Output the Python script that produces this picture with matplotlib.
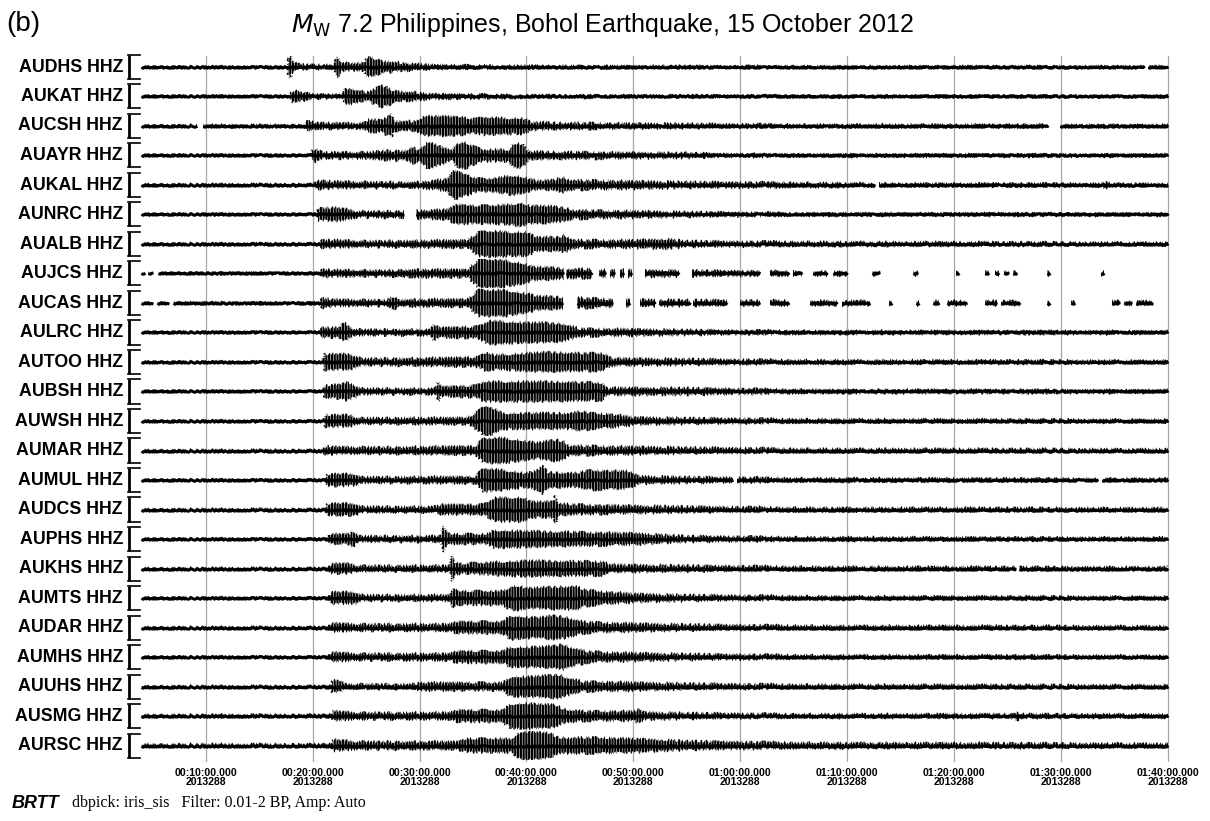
import numpy as np
import matplotlib
matplotlib.use("Agg")
import matplotlib.pyplot as plt
from matplotlib.patches import Rectangle, Polygon

# ---------------- data ----------------
stations = ["AUDHS", "AUKAT", "AUCSH", "AUAYR", "AUKAL", "AUNRC", "AUALB", "AUJCS",
            "AUCAS", "AULRC", "AUTOO", "AUBSH", "AUWSH", "AUMAR", "AUMUL", "AUDCS",
            "AUPHS", "AUKHS", "AUMTS", "AUDAR", "AUMHS", "AUUHS", "AUSMG", "AURSC"]
channel = "HHZ"

# envelope of each trace: time (minutes after 00:00) and half-amplitude (display units)
audhs = ([3.95, 17.6, 17.7, 17.9, 18.1, 18.6, 20.0, 22.0, 22.2, 22.5, 22.8, 24.8, 25.0, 25.5, 26.0, 26.6, 27.5, 29.7, 31.6, 40, 60, 100],
         [0.6, 0.6, 8, 12, 6, 3, 2, 2, 10, 8, 4, 4, 9, 10, 8, 6, 5, 3, 2, 1.3, 1.0, 0.9])
aukat = ([3.95, 17.9, 18.0, 18.3, 19.2, 20.0, 22.8, 23.0, 23.6, 24.3, 25.0, 25.9, 26.3, 26.7, 27.2, 27.6, 28.5, 29.7, 31.5, 40, 60, 100],
         [0.6, 0.6, 5, 6, 4, 2, 2, 7, 8, 6, 4, 8, 12, 10, 8, 6, 5, 4, 2.5, 1.5, 1.2, 1.0])
aucsh = ([3.95, 19.3, 19.5, 20.5, 24.8, 25.3, 26.3, 27.2, 27.4, 27.6, 29.7, 30.2, 32, 34, 35.2, 36, 38, 39.7, 40.5, 42.5, 47, 55, 65, 100],
         [1.0, 1.0, 5, 3, 3, 7, 6, 10, 13, 5, 5, 9, 10, 9, 7, 9, 8, 8, 4, 3.5, 3, 2.2, 1.6, 1.3])
auayr = ([3.95, 19.8, 20.0, 20.3, 21, 25.5, 26.5, 28.8, 29.3, 30.0, 30.7, 31.5, 32.2, 33.0, 33.6, 34.3, 35.3, 36, 38.3, 38.8, 39.6, 40.2, 45, 55, 60, 100],
         [0.7, 0.7, 6, 6, 3, 3.5, 5, 5, 8, 6, 13, 11, 8, 5, 12, 13, 8, 6, 6, 12, 12, 4, 3.5, 2.5, 1.4, 1.2])
aukal = ([3.95, 20.1, 20.3, 21, 25, 30, 32.6, 33.2, 34, 35.3, 36, 37.8, 38.5, 39.7, 41, 42.5, 43.3, 44.2, 50, 55, 65, 75, 93.8, 94.2, 94.6, 100],
         [1.0, 1.0, 4, 4, 3, 3, 6, 15, 12, 7, 6, 8, 10, 8, 4.5, 5, 8, 5, 4, 3, 2.5, 1.6, 1.6, 3.5, 1.6, 1.5])
aunrc = ([3.95, 20.3, 20.5, 22, 23.5, 24.2, 28.4, 29.8, 32.5, 33.5, 35, 36.5, 38.5, 39.4, 40.3, 41.5, 43.5, 44.5, 50, 55, 65, 100],
         [0.6, 0.6, 6, 7, 5, 3, 3.5, 4, 5, 10, 9, 9, 10, 12, 9, 9, 7, 4.5, 3.5, 2.5, 1.5, 1.2])
aualb = ([3.95, 20.7, 20.9, 22, 25, 30, 34.5, 35.5, 37, 38.5, 40, 41, 43, 43.5, 44.5, 50, 53, 55, 60, 100],
         [0.8, 0.8, 4, 4, 3, 3.5, 4, 12, 13, 12, 12, 7, 7, 9, 4, 4, 5, 3, 2.5, 1.5])
aujcs = ([3.95, 20.7, 20.9, 22, 27.5, 28.5, 34.5, 35.5, 37.5, 39.8, 40.5, 42.5, 44, 48, 55, 62, 70, 100],
         [0.7, 0.7, 4, 3.5, 3, 4, 4, 14, 14, 10, 7, 6, 5, 4, 3, 2.5, 2, 2])
aucas = ([3.95, 20.7, 20.9, 22, 27, 27.5, 28, 34.5, 35.5, 38, 40.3, 41, 43.4, 48, 55, 65, 100],
         [0.7, 0.7, 5, 3.5, 3, 7, 3.5, 4, 13, 13, 9, 7, 6, 4, 3, 2.5, 2])
aulrc = ([3.95, 20.7, 20.9, 22.5, 22.9, 23.4, 24, 31, 31.4, 31.8, 35.5, 36.5, 38, 40, 41.5, 43.4, 45, 50, 55, 65, 100],
         [0.6, 0.6, 5, 5, 10, 6, 3, 3, 8, 5, 6, 12, 11, 10, 10, 9, 4, 3.5, 2.5, 1.8, 1.5])
autoo = ([3.95, 20.9, 21.1, 23.5, 24.5, 31, 35.5, 36.3, 37, 40, 42, 45, 47.2, 48, 55, 65, 100],
         [0.6, 0.6, 8, 8, 3.5, 4, 5, 10, 7, 9, 10, 9, 9, 4, 3, 2, 1.5])
aubsh = ([3.95, 20.9, 21.1, 22.5, 23.2, 24, 24.5, 31.5, 31.7, 32, 35.3, 36, 40, 42, 47, 47.5, 55, 65, 100],
         [0.6, 0.6, 6, 7, 9, 6, 3, 3, 10, 5, 6, 10, 10, 10, 9, 4, 3.5, 2, 1.5])
auwsh = ([3.95, 21.0, 21.2, 23.5, 24.2, 34.5, 35.5, 36.2, 37.8, 40, 44, 45.2, 46, 48, 50, 55, 65, 100],
         [0.6, 0.6, 6, 6, 3, 3.5, 10, 16, 8, 8, 8, 10, 8, 7, 4, 3, 2, 1.5])
aumar = ([3.95, 21.0, 21.2, 23, 28, 35.2, 36, 37.5, 39.7, 41, 42.8, 43.5, 44, 50, 55, 65, 100],
         [0.6, 0.6, 4.5, 3.5, 3.5, 4.5, 12, 13, 10, 8, 11, 9, 5, 4, 3, 2, 1.5])
aumul = ([3.95, 21.2, 21.4, 24, 24.5, 35.2, 36, 37.8, 40, 41, 41.5, 42, 44.5, 46, 49.5, 50.5, 55, 65, 100],
         [0.6, 0.6, 6, 6, 3, 3.5, 12, 10, 7, 10, 14, 8, 7, 10, 9, 4, 3, 2, 1.5])
audcs = ([3.95, 21.2, 21.4, 24, 24.5, 31.5, 32, 36, 37, 39.7, 40.5, 42.5, 42.7, 43, 45, 50, 55, 65, 100],
         [0.6, 0.6, 6, 6, 3, 3, 5, 5, 12, 12, 8, 8, 17, 6, 5, 4, 3, 2, 1.5])
auphs = ([3.95, 21.4, 21.6, 23.5, 23.7, 24.3, 32.0, 32.2, 32.5, 33, 36.3, 37, 40, 45, 50, 55, 65, 100],
         [0.6, 0.6, 5, 5, 9, 3, 3, 13, 7, 5, 5, 9, 8, 7, 6, 3, 2, 1.5])
aukhs = ([3.95, 21.5, 21.7, 23.5, 24.2, 32.8, 33.0, 33.3, 34, 37.8, 40, 47.2, 48, 55, 65, 100],
         [0.6, 0.6, 5, 5, 3, 3, 13, 6, 5, 7, 8, 7, 4, 3, 2, 1.5])
aumts = ([3.95, 21.5, 21.7, 24, 24.5, 32.8, 33.2, 33.6, 37.8, 38.5, 39.5, 40, 42, 44.5, 45.6, 48, 50, 55, 65, 100],
         [0.6, 0.6, 6, 6, 3, 3, 10, 7, 7, 12, 12, 10, 11, 12, 8, 6, 4.5, 3, 2, 1.5])
audar = ([3.95, 21.5, 21.7, 24, 32.8, 33.5, 37.8, 38.5, 39.7, 41, 42.5, 43.5, 45.3, 47, 55, 65, 100],
         [0.6, 0.6, 4.5, 3.5, 3.5, 6, 6, 12, 11, 10, 12, 11, 6, 5, 3, 2, 1.5])
aumhs = ([3.95, 21.5, 21.7, 24, 32.8, 33.5, 37.8, 38.5, 40, 42.5, 43.4, 44, 45.6, 47, 55, 65, 100],
         [0.6, 0.6, 5, 3.5, 3.5, 6, 6, 10, 10, 11, 13, 10, 6, 5, 3, 2, 1.5])
auuhs = ([3.95, 21.7, 21.8, 22.5, 23, 29.5, 30, 37.8, 38.5, 40, 43.1, 43.5, 45.3, 47, 55, 65, 100],
         [0.6, 0.6, 6, 6, 2.5, 2.5, 4, 4, 10, 10, 12, 10, 5, 5, 3, 2, 1.5])
ausmg = ([3.95, 21.7, 21.9, 24, 32.8, 33.5, 37.8, 38.5, 40, 42.8, 43.5, 45.3, 50.0, 50.5, 51, 55, 65, 85.6, 85.9, 86.3, 100],
         [1.3, 1.3, 5, 3.5, 3.5, 6, 6, 12, 13, 11, 7, 5, 5, 7, 4, 3, 2, 2, 4, 2, 1.8])
aursc = ([3.95, 21.7, 21.9, 24, 33.5, 34.5, 38.5, 39.5, 41, 42.2, 43, 47, 50, 55, 65, 100],
         [1.4, 1.4, 6, 4, 4, 7, 7, 14, 14, 12, 8, 8, 7, 4.5, 3, 2])

traces = [audhs, aukat, aucsh, auayr, aukal, aunrc, aualb, aujcs, aucas, aulrc, autoo, aubsh,
          auwsh, aumar, aumul, audcs, auphs, aukhs, aumts, audar, aumhs, auuhs, ausmg, aursc]

# recorded-data segments (minutes) for traces with gaps
data_segments = {
    "AUDHS": [(3.95, 97.8), (98.1, 100)],
    "AUCSH": [(3.95, 9.2), (9.7, 88.8), (89.9, 100)],
    "AUKAL": [(3.95, 72.6), (73.0, 100)],
    "AUNRC": [(3.95, 28.5), (29.7, 100)],
    "AUJCS": [(3.95, 4.3), (4.6, 5.1), (5.5, 43.5), (43.7, 46.1), (46.8, 47.4), (47.8, 48.3),
              (48.7, 49.1), (49.5, 49.9), (51.1, 54.3), (55.5, 61.8), (62.8, 64.6), (64.9, 65.8),
              (66.8, 68.1), (68.7, 70.0), (72.3, 73.1), (76.2, 76.6), (80.2, 80.5), (82.9, 83.3),
              (83.8, 84.2), (84.7, 85.1), (85.5, 85.9), (88.7, 89.0), (93.7, 94.0)],
    "AUCAS": [(3.95, 5.1), (5.4, 6.6), (6.9, 43.4), (44.7, 48.1), (49.3, 49.7), (50.6, 52.0),
              (52.4, 55.3), (55.6, 58.8), (60.0, 61.8), (62.8, 64.6), (66.5, 69.0), (69.5, 72.1),
              (73.9, 74.2), (76.4, 76.7), (78.0, 78.6), (79.3, 81.2), (82.9, 84.0), (84.4, 86.2),
              (88.7, 89.0), (90.9, 91.3), (94.8, 95.5), (95.9, 96.6), (97.0, 98.6)],
    "AUMUL": [(3.95, 59.3), (59.7, 93.5), (93.8, 100)],
    "AUKHS": [(3.95, 85.8), (86.1, 100)],
}

tick_minutes = [10, 20, 30, 40, 50, 60, 70, 80, 90, 100]
julian_day = "2013288"
title_text = r"$M_{\rm W}$ 7.2 Philippines, Bohol Earthquake, 15 October 2012"

# ---------------- layout ----------------
plt.rcParams["hatch.linewidth"] = 1.6
W, H = 1210, 821
fig = plt.figure(figsize=(W / 100, H / 100), dpi=100)
px_per_min = 10.69
x10 = 205.8
xlo, xhi = 0.0, 101.0
left_px = x10 + (xlo - 10) * px_per_min
right_px = x10 + (xhi - 10) * px_per_min
spacing_px = 29.5
top_px, bot_px, first_px = 56, 762, 67
ytop = (first_px - top_px) / spacing_px
ybot = -(bot_px - first_px) / spacing_px
ax = fig.add_axes([left_px / W, (H - bot_px) / H, (right_px - left_px) / W, (bot_px - top_px) / H])
ax.set_xlim(xlo, xhi)
ax.set_ylim(ybot, ytop)
for s in ax.spines.values():
    s.set_visible(False)
ax.set_yticks([])

# grid lines
for m in tick_minutes:
    ax.plot([m, m], [ybot, ytop], color="#a6a6a6", lw=0.9, zorder=1)

label_font = dict(family="Liberation Sans", fontweight="bold")

for i, (name, (tt, aa)) in enumerate(zip(stations, traces)):
    off = -i
    tt = np.asarray(tt, float)
    aa = np.asarray(aa, float) / spacing_px
    verts = np.column_stack([np.concatenate([tt, tt[::-1]]),
                             np.concatenate([off + aa, (off - aa)[::-1]])])
    segs = data_segments.get(name, [(3.95, 100)])
    for (s0, s1) in segs:
        clip = Rectangle((s0, off - 0.5), s1 - s0, 1.0, transform=ax.transData)
        env = Polygon(verts, closed=True, facecolor="none", edgecolor="black",
                      hatch="||||||", lw=0.0, zorder=3)
        env.set_sketch_params(scale=1.6, length=2.0, randomness=4)
        ax.add_patch(env)
        env.set_clip_path(clip)
        base, = ax.plot([s0, s1], [off, off], color="black", lw=2.1, zorder=3,
                        solid_capstyle="butt")
        base.set_sketch_params(scale=0.8, length=2.0, randomness=4)
    # label
    ax.text(2.25, off, f"{name} {channel}", ha="right", va="center", fontsize=12.8,
            clip_on=False, **label_font)
    # amplitude bracket
    bx0 = 10 + (128.5 - x10) / px_per_min
    bx1 = 10 + (140 - x10) / px_per_min
    bh = 12 / spacing_px
    ax.plot([bx0, bx0], [off - bh, off + bh], color="black", lw=2.0, clip_on=False,
            solid_capstyle="butt", zorder=4)
    ax.plot([bx0 - 0.05, bx1], [off + bh, off + bh], color="black", lw=1.2, clip_on=False, zorder=4)
    ax.plot([bx0 - 0.05, bx1], [off - bh, off - bh], color="black", lw=1.2, clip_on=False, zorder=4)

# time axis labels
ax.set_xticks(tick_minutes)
ax.set_xticklabels([f"{m // 60:02d}:{m % 60:02d}:00.000\n{julian_day}" for m in tick_minutes],
                   fontsize=7.6, linespacing=0.95, **label_font)
ax.tick_params(axis="x", length=0, pad=4)

# titles and footer
fig.text(6 / W, 1 - 24 / H, "(b)", fontsize=20, family="Liberation Sans", va="center", ha="left")
fig.text(602 / W, 1 - 25 / H, title_text, fontsize=18, family="Liberation Sans", va="center", ha="center")
fig.text(12 / W, 1 - 803 / H, "BRTT", fontsize=13, family="Liberation Sans", fontweight="bold",
         fontstyle="italic", va="center", ha="left")
fig.text(72 / W, 1 - 803 / H, "dbpick: iris_sis   Filter: 0.01-2 BP, Amp: Auto", fontsize=11.5,
         family="Liberation Serif", va="center", ha="left")

fig.savefig("out.png", dpi=100)
